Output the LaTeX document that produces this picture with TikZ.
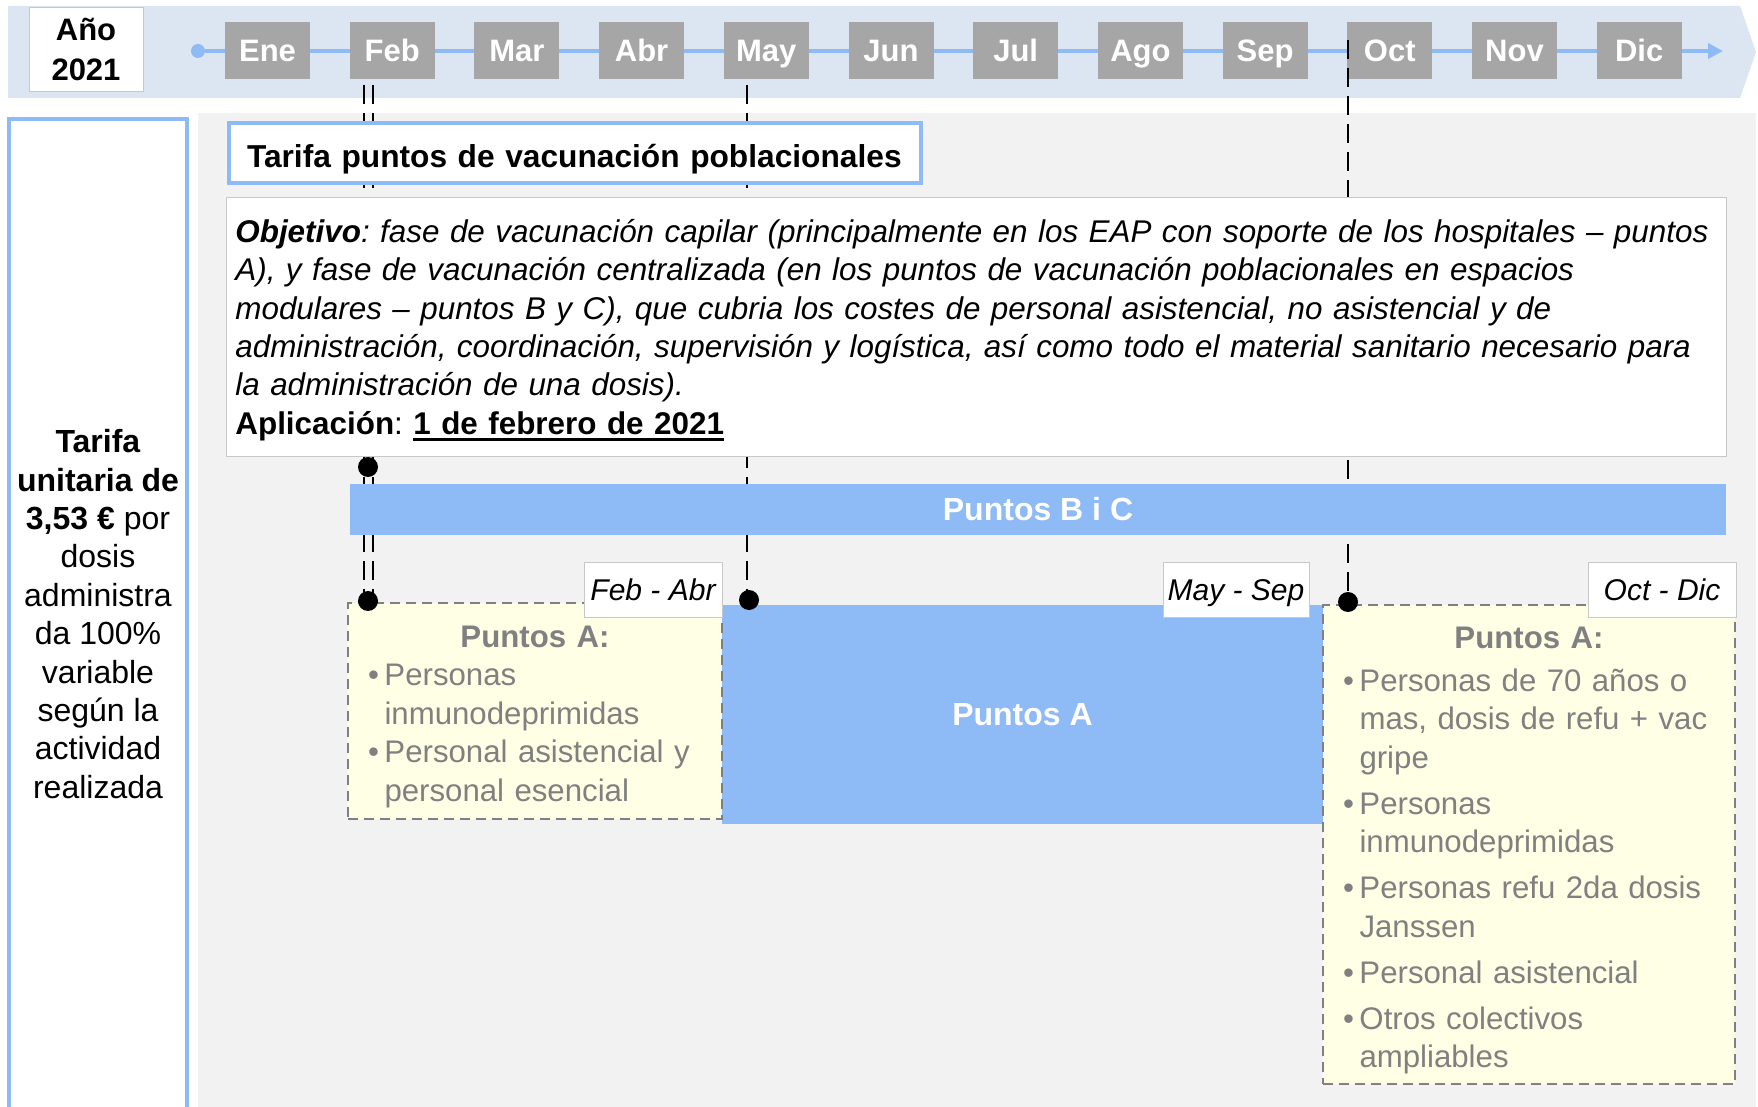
\documentclass[tikz,border=0pt]{standalone}
\usepackage{fontspec}
\setmainfont{Liberation Sans}
\usetikzlibrary{arrows.meta}
\setlength{\parindent}{0pt}
\frenchspacing
\newcommand{\ulthick}[1]{\setbox0\hbox{#1}\leavevmode\rlap{\rule[-3.5pt]{\wd0}{1.5pt}}\box0}
\newcommand{\bul}[1]{\mbox{\makebox[8.25pt][l]{•}#1}}
\newcommand{\cont}[1]{\mbox{\hspace*{8.25pt}#1}}

\definecolor{bandgray}{RGB}{220,230,242}
\definecolor{monthgray}{RGB}{166,166,166}
\definecolor{lightblue}{RGB}{142,186,245}
\definecolor{panelgray}{RGB}{242,242,242}
\definecolor{paleyellow}{RGB}{255,255,229}
\definecolor{textgray}{RGB}{128,128,128}
\definecolor{boxline}{RGB}{200,200,200}

\begin{document}
\begin{tikzpicture}[x=0.5pt,y=-0.5pt,
  month/.style={fill=monthgray,text=white,font=\bfseries\fontsize{15.5}{18}\selectfont,
    minimum width=42.5pt,minimum height=28.5pt,inner sep=0pt,text height=14pt,text depth=2.5pt},
  tag/.style={draw=boxline,fill=white,font=\itshape\fontsize{15}{18}\selectfont,
    minimum height=27.5pt,inner sep=0pt,text height=13pt,text depth=2.5pt},
  puntos/.style={draw=textgray,dash pattern=on 5pt off 3pt,line width=1pt,fill=paleyellow,
    text=textgray,font=\fontsize{15.6}{19.25}\selectfont,align=left,inner xsep=10pt,inner ysep=0pt},
  bluebox/.style={fill=lightblue,text=white,font=\bfseries\fontsize{16}{19}\selectfont,inner sep=0pt},
  dot/.style={circle,fill=black,inner sep=0pt,minimum size=10pt},
  vline/.style={line width=1pt,dash pattern=on 9.5pt off 4.5pt}]
\useasboundingbox (0,0) rectangle (1758,1107);
\clip (0,0) rectangle (1758,1107);

% background
\fill[bandgray] (8,6) -- (1740,6) -- (1756,52) -- (1740,98) -- (8,98) -- cycle;
\fill[panelgray] (198,113) rectangle (1756,1107);
\draw[lightblue,line width=2pt,fill=white] (9,119) rectangle (187,1130);
\node[align=center,font=\fontsize{16}{19.2}\selectfont] (tarifa) at (98,614)
  {\textbf{Tarifa}\\ \textbf{unitaria de}\\ \textbf{3,53 €} por\\ dosis\\ administra\\
   da 100\%\\ variable\\ según la\\ actividad\\ realizada};

% timeline
\node[circle,fill=lightblue,minimum size=7pt,inner sep=0pt] (t0) at (198,51) {};
\coordinate (t1) at (1723,51);
\draw[lightblue,line width=2pt,-{Triangle[length=7.5pt,width=7.5pt]}] (t0) -- (t1);
\node[draw=boxline,fill=white,align=center,minimum width=57pt,minimum height=42pt,
  font=\bfseries\fontsize{15.5}{20}\selectfont] (anio) at (86,49) {Año\\2021};
\foreach \m [count=\i] in {Ene,Feb,Mar,Abr,May,Jun,Jul,Ago,Sep,Oct,Nov,Dic}
  \node[month] (m\i) at ({267.5+124.7*(\i-1)},50.5) {\m};

% dashed marks
\coordinate (feba) at (364,85);
\coordinate (febb) at (373,85);
\coordinate (mayt) at (747,85);
\coordinate (octt) at (1348,40);
\coordinate (d1) at (368,467);
\coordinate (d2) at (368,601);
\coordinate (d3) at (749,600);
\coordinate (d4) at (1348,602);
\draw[vline] (feba) -- (feba |- d2);
\draw[vline] (febb) -- (febb |- d2);
\draw[vline] (mayt) -- (mayt |- d3);
\draw[vline] (octt) -- (d4);

% boxes
\node[draw=lightblue,line width=2pt,fill=white,anchor=west,text width=328pt,inner xsep=9pt,
  minimum height=30pt,text height=16pt,text depth=1.3pt,align=left,
  font=\bfseries\fontsize{15.85}{19}\selectfont] (titulo) at (227,153)
  {\mbox{Tarifa puntos de vacunación poblacionales}};
\node[draw=boxline,fill=white,anchor=north west,text width=741pt,inner xsep=4.5pt,inner ysep=0pt,
  minimum height=129.5pt,align=left,font=\fontsize{15.7}{19.15}\selectfont] (objetivo) at (226,197)
  {\itshape\rule{0pt}{15pt}\mbox{\textbf{Objetivo}: fase de vacunación capilar (principalmente en los EAP con soporte de los hospitales – puntos}\\
   \mbox{A), y fase de vacunación centralizada (en los puntos de vacunación poblacionales en espacios}\\
   \mbox{modulares – puntos B y C), que cubria los costes de personal asistencial, no asistencial y de}\\
   \mbox{administración, coordinación, supervisión y logística, así como todo el material sanitario necesario para}\\
   \mbox{la administración de una dosis).}\\
   \upshape\textbf{Aplicación}: \ulthick{\textbf{1 de febrero de 2021}}};
\node[bluebox,minimum width=688pt,minimum height=25.5pt] (bic) at (1038,509.5) {Puntos B i C};
\node[bluebox,minimum width=300.5pt,minimum height=109.5pt] (pa) at (1022.5,714.5) {Puntos A};
\node[puntos,text width=167pt,minimum height=108pt] (febabr) at (535,711)
  {\rule{0pt}{16.5pt}\hfill\textbf{Puntos A:}\hfill\null\\
   \bul{Personas}\\
   \cont{inmunodeprimidas}\\
   \bul{Personal asistencial y}\\
   \cont{personal esencial}};
\node[puntos,text width=186pt,minimum height=239.5pt] (octdic) at (1529,844.5)
  {\rule{0pt}{16.5pt}\hfill\textbf{Puntos A:}\hfill\null\\[2.25pt]
   \bul{Personas de 70 años o}\\
   \cont{mas, dosis de refu + vac}\\
   \cont{gripe}\\[3.75pt]
   \bul{Personas}\\
   \cont{inmunodeprimidas}\\[3.75pt]
   \bul{Personas refu 2da dosis}\\
   \cont{Janssen}\\[3.75pt]
   \bul{Personal asistencial}\\[3.75pt]
   \bul{Otros colectivos}\\
   \cont{ampliables}};
\node[tag,minimum width=69pt] (tag1) at (653,589.5) {Feb - Abr};
\node[tag,minimum width=73pt] (tag2) at (1236,589.5) {May - Sep};
\node[tag,minimum width=74pt] (tag3) at (1662,589.5) {Oct - Dic};

% dots
\foreach \d in {d1,d2,d3,d4}
  \node[dot] (p\d) at (\d) {};
\end{tikzpicture}
\end{document}
